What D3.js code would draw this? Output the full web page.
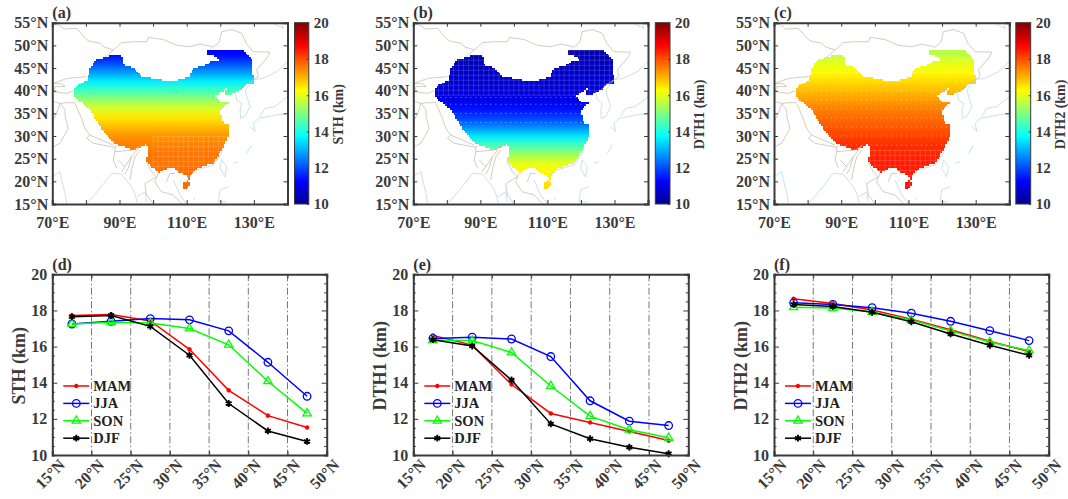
<!DOCTYPE html>
<html>
<head>
<meta charset="utf-8">
<script src="https://cdn.jsdelivr.net/npm/d3@7"></script>
<style>
body { margin: 0; background: #fff; }
text { font-family: "Liberation Serif", serif; font-weight: bold; fill: #3a3a3a; }
</style>
</head>
<body>
<div id="chart"></div>
<script>
var width = 1068;
var height = 499;

// latitude bands, one value per season
var bands = [17.5, 22.5, 27.5, 32.5, 37.5, 42.5, 47.5];
var seasons = ["MAM", "JJA", "SON", "DJF"];
var seasonColors = ["#ff0000", "#0000ff", "#00ff00", "#000000"];

var sthMAM = [17.72, 17.78, 17.42, 15.85, 13.58, 12.18, 11.52];
var sthJJA = [17.25, 17.40, 17.55, 17.48, 16.87, 15.13, 13.25];
var sthSON = [17.25, 17.35, 17.30, 17.00, 16.10, 14.08, 12.30];
var sthDJF = [17.65, 17.72, 17.12, 15.52, 12.85, 11.33, 10.75];

var dth1MAM = [16.62, 16.08, 13.90, 12.30, 11.80, 11.30, 10.80];
var dth1JJA = [16.45, 16.52, 16.42, 15.45, 13.00, 11.87, 11.63];
var dth1SON = [16.35, 16.33, 15.67, 13.82, 12.15, 11.40, 10.95];
var dth1DJF = [16.38, 16.03, 14.15, 11.72, 10.90, 10.43, 10.07];

var dth2MAM = [18.65, 18.38, 18.02, 17.52, 16.93, 16.30, 15.72];
var dth2JJA = [18.42, 18.33, 18.15, 17.85, 17.40, 16.88, 16.33];
var dth2SON = [18.18, 18.13, 17.92, 17.47, 16.87, 16.25, 15.78];
var dth2DJF = [18.33, 18.22, 17.90, 17.37, 16.70, 16.07, 15.52];

// map field read along latitude
var fieldLats = [18, 20, 22, 24, 26, 28, 30, 32, 34, 36, 38, 40, 42, 44, 46, 48, 50];
var sthField  = [17.7, 17.7, 17.7, 17.6, 17.6, 17.5, 17.3, 16.9, 16.5, 15.9, 15.2, 14.4, 13.6, 12.8, 12.0, 11.3, 11.0];
var dth1Field = [16.6, 16.5, 16.3, 16.0, 15.3, 14.4, 13.5, 12.6, 11.9, 11.4, 11.0, 10.8, 10.7, 10.6, 10.5, 10.4, 10.3];
var dth2Field = [18.7, 18.6, 18.5, 18.5, 18.4, 18.3, 18.1, 17.9, 17.7, 17.5, 17.2, 16.9, 16.6, 16.3, 16.0, 15.6, 15.4];

// jet colour map
var jetStops = [0, 0.125, 0.375, 0.625, 0.875, 1];
var jetColors = ["#00008f", "#0000ff", "#00ffff", "#ffff00", "#ff0000", "#800000"];

var latTicks = [15, 20, 25, 30, 35, 40, 45, 50, 55];
var lonTicks = [70, 80, 90, 100, 110, 120, 130, 140];
var lonLabels = [70, 90, 110, 130];
var barTicks = [10, 12, 14, 16, 18, 20];
var bandTicks = [15, 20, 25, 30, 35, 40, 45, 50];

// China outline, lon/lat
var china = [[76.3,40.15],[77.05,41],[80.4,42.35],[81.2,44.9],[82.7,46.75],[85.7,47.35],[88.2,47.85],[90.65,47.65],[91.35,45.65],[94.6,44.9],[96.6,43.1],[101.1,42.6],[105.05,42],[108.5,42.6],[111,43.25],[111.8,44.9],[116,45.65],[117,46.4],[119.95,46.9],[118,47.65],[116.2,47.85],[116.2,49.1],[123.9,49.1],[126.9,48.9],[129.4,47],[129.9,41.6],[128.4,41.6],[125.9,40.15],[121.9,38.7],[121.4,39.8],[122.3,40.75],[120.45,39.8],[118.45,38.7],[119.95,37.55],[122.9,37.55],[120.95,36.45],[119.95,35.35],[121.15,32.65],[122.45,32.45],[122.45,30],[120.45,26.9],[118,24],[113,22.9],[111,21.4],[110.9,20.4],[110.3,20.4],[110.2,21.5],[107.5,21.75],[106.55,22.9],[104.05,22.9],[101.6,21.9],[99.1,23.6],[97.8,24.35],[98.6,26.2],[98.1,28.4],[96.1,27.3],[93.6,27.05],[88.7,28.2],[84.2,32.05],[81.2,35.75],[78.2,37.55],[76.3,39.05]];
var hainan = [[108.8,18.8],[109,19.7],[110.5,20.15],[111,19.4],[110.2,18.45],[109,18.2]];

var borders = [
  [[70,54.7],[72,54.5],[73.5,53.6],[77.25,53.75],[79,52.2],[80.7,51],[84.2,50.45],[85.5,49.6],[88.2,49],[90.65,50.6],[94.15,50.8],[98.1,50.8],[98.6,51.75],[103.05,51.3],[107,50],[111,49.7],[114,50.3],[118,49.6],[119.7,50.8],[120.4,53],[123.4,53.5],[126.4,52.65],[127.7,50.45],[129.85,48.6],[134.8,48.5],[133.8,47.15],[130.85,44.6],[131.3,43.1],[129.85,42.4]],
  [[88.2,49],[85.7,47.35]],
  [[70.3,41.6],[74.3,42.7],[80.2,43.1]],
  [[70.3,41.6],[72.8,41.5],[73.8,40.9],[70.8,40.9],[70.3,39.8],[74.3,39.4],[76.25,40]],
  [[70.3,37.6],[72.3,37.2],[74.3,37.35],[76.75,37.35]],
  [[72.3,37.2],[73.8,35.75],[73.8,34.3],[74.75,31.7],[72.3,28.4],[70.3,27.65]],
  [[72.3,37.2],[71.3,35],[70.3,33.55]],
  [[76.75,37.2],[78.7,33.9],[79.7,31.7],[81.2,30.2],[88.15,28]],
  [[81.2,30.2],[80.2,29.5],[82.2,28.4],[88.65,27.5],[89.1,28]],
  [[88.65,27.5],[88.65,26.55],[88.15,24.7],[89.15,22.9]],
  [[88.65,26.55],[94.1,26.9],[96.1,27.8]],
  [[89.65,24.7],[91.6,23.25],[93.6,25.45],[96.1,27.8]],
  [[91.6,23.25],[90.6,22.1]],
  [[93.6,25.45],[92.6,22.9],[91.6,21.6]],
  [[96.1,26.9],[94.6,25.4],[93.6,22.5],[93.1,20.3]],
  [[98.05,24.3],[99.55,22.1],[101,21],[97.55,19.5],[98.05,17],[100,15.1]],
  [[101.5,21.75],[100.5,19.9],[102.5,17.7],[106,17],[108.5,15.1]],
  [[104,19.9],[105,21.75],[106.5,21.7]],
  [[125.9,40.15],[127.5,41.3],[129.85,42.4]]
];
var coasts = [
  [[69.8,21.05],[72.3,22.1],[72.8,20.3],[73.8,17.35],[74.3,15]],
  [[80.2,15],[84.2,18.45],[87.65,21.75],[90.6,21.6],[93.6,18.8],[94.6,17.35],[95.3,15.2]],
  [[95.3,16.6],[97.6,17.7],[98,15.5]],
  [[106,20.3],[108,17],[110,15]],
  [[140,46.4],[136.8,44.2],[132.8,42.75],[129.85,42.4]],
  [[129.85,42.4],[127.4,40.15],[127.9,38.7],[128.85,36.5],[127.35,34.3],[126.05,33.9],[125.9,35.75],[126.4,37.2],[124.9,37.95],[124.4,39.8]],
  [[140,35],[136.8,34.65],[131.35,33.9],[129.85,32.8],[130.35,31],[128.85,32.1]],
  [[140,38.7],[136.3,36.5],[133.3,36.1],[131.8,34.3]],
  [[135.8,54.85],[138.8,53.75],[138.3,54.7]],
  [[129.35,28],[127.85,26.2]],
  [[120.4,24.7],[121.9,23.25],[121.4,21],[119.9,22.9],[120.4,24.7]],
  [[122.4,18.85],[119.9,18.1],[119.4,15.5],[121.9,15.5]],
  [[123.9,24],[125.4,24.35]],
  [[111.9,16.5],[112.4,15.9]],
  [[111,21.2],[113,22.5],[118,23.6],[120.7,26.6]]
];

var mapPanels = [
  {id: "a", left: 52.3, right: 287.5, barLeft: 294.5, barRight: 308.8, field: sthField, label: "STH (km)", hatch: [100, 123, 20, 30], dots: []},
  {id: "b", left: 413.3, right: 648, barLeft: 655.3, barRight: 670, field: dth1Field, label: "DTH1 (km)", hatch: [76, 130, 39, 50], dots: [33, 35, 37, 38.5]},
  {id: "c", left: 774, right: 1009.3, barLeft: 1015.8, barRight: 1030.7, field: dth2Field, label: "DTH2 (km)", hatch: [97, 123, 18, 27], dots: [28, 30, 32, 34, 36, 38, 40, 42, 44, 47]}
];
var linePanels = [
  {id: "d", left: 52.3, right: 326.7, values: [sthMAM, sthJJA, sthSON, sthDJF], label: "STH (km)"},
  {id: "e", left: 413.3, right: 688.3, values: [dth1MAM, dth1JJA, dth1SON, dth1DJF], label: "DTH1 (km)"},
  {id: "f", left: 774, right: 1048.7, values: [dth2MAM, dth2JJA, dth2SON, dth2DJF], label: "DTH2 (km)"}
];

var axisColor = "#3a3a3a";
var mapTop = 22.7, mapBottom = 204;
var lineTop = 274.3, lineBottom = 455;

var svg = d3.select("#chart").append("svg")
          .attr("width", width)
          .attr("height", height);
var defs = svg.append("defs");

var jet = d3.scaleLinear()
            .domain(jetStops.map(function(s) { return 10 + s * 10; }))
            .range(jetColors)
            .clamp(true);

function styleAxis(g, size) {
  g.selectAll("path").attr("stroke", axisColor).attr("stroke-width", 2);
  g.selectAll("line").attr("stroke", axisColor).attr("stroke-width", 1);
  g.selectAll("text").attr("font-size", size).style("fill", axisColor);
}

function drawMap(p) {
  var x = d3.scaleLinear().domain([70, 140]).range([p.left, p.right]);
  var y = d3.scaleLinear().domain([15, 55]).range([mapBottom, mapTop]);
  var path = d3.line().x(function(d) { return x(d[0]); }).y(function(d) { return y(d[1]); });

  var grad = defs.append("linearGradient")
                 .attr("id", "field" + p.id)
                 .attr("gradientUnits", "userSpaceOnUse")
                 .attr("x1", 0).attr("x2", 0)
                 .attr("y1", y(fieldLats[0])).attr("y2", y(fieldLats[fieldLats.length - 1]));
  fieldLats.forEach(function(lat, i) {
    grad.append("stop")
        .attr("offset", i / (fieldLats.length - 1))
        .attr("stop-color", jet(p.field[i]));
  });

  // the field is gridded, so the outline steps from cell to cell
  var cells = "";
  d3.range(70, 140, 0.5).forEach(function(lon) {
    d3.range(15, 55, 0.4).forEach(function(lat) {
      var c = [lon + 0.25, lat + 0.2];
      if (d3.polygonContains(china, c) || d3.polygonContains(hainan, c)) {
        cells += "M" + x(lon) + "," + y(lat + 0.4) + "H" + x(lon + 0.5) + "V" + y(lat) + "H" + x(lon) + "Z";
      }
    });
  });

  defs.append("clipPath").attr("id", "shape" + p.id)
      .append("path").attr("d", cells);

  var g = svg.append("g");
  g.append("path").attr("d", cells)
   .attr("fill", "url(#field" + p.id + ")")
   .attr("shape-rendering", "crispEdges");

  // regridding gaps that show as a pale mesh
  var hatch = g.append("g").attr("clip-path", "url(#shape" + p.id + ")")
               .attr("stroke", "#fff").attr("stroke-opacity", 0.25).attr("stroke-width", 0.6);
  hatch.selectAll(".v").data(d3.range(p.hatch[0], p.hatch[1], 1.5)).enter().append("line")
       .attr("x1", x).attr("x2", x).attr("y1", y(p.hatch[2])).attr("y2", y(p.hatch[3]));
  hatch.selectAll(".h").data(d3.range(p.hatch[2], p.hatch[3], 1.1)).enter().append("line")
       .attr("y1", y).attr("y2", y).attr("x1", x(p.hatch[0])).attr("x2", x(p.hatch[1]));
  hatch.selectAll(".d").data(p.dots).enter().append("line")
       .attr("y1", y).attr("y2", y).attr("x1", x(75)).attr("x2", x(130))
       .attr("stroke-opacity", 0.45).attr("stroke-width", 0.8).attr("stroke-dasharray", "1.5,3.5");

  g.selectAll(".border").data(borders).enter().append("path")
   .attr("d", path).attr("fill", "none").attr("stroke", "#c4b5a6").attr("stroke-width", 0.7);
  g.selectAll(".coast").data(coasts).enter().append("path")
   .attr("d", path).attr("fill", "none").attr("stroke", "#b3d4e4").attr("stroke-width", 0.7);

  // axes on all four sides, ticks inward
  var bottom = svg.append("g").attr("transform", "translate(0," + mapBottom + ")")
    .call(d3.axisBottom(x).tickValues(lonTicks).tickSize(-4).tickPadding(6)
      .tickFormat(function(d) { return lonLabels.indexOf(d) >= 0 ? d + "°E" : ""; }));
  styleAxis(bottom, 16);
  bottom.selectAll("text").attr("dy", "1.1em");
  styleAxis(svg.append("g").attr("transform", "translate(0," + mapTop + ")")
    .call(d3.axisTop(x).tickValues(lonTicks).tickSize(-4).tickFormat("")), 16);
  styleAxis(svg.append("g").attr("transform", "translate(" + p.left + ",0)")
    .call(d3.axisLeft(y).tickValues(latTicks).tickSize(-4).tickPadding(4)
      .tickFormat(function(d) { return d + "°N"; })), 16);
  styleAxis(svg.append("g").attr("transform", "translate(" + p.right + ",0)")
    .call(d3.axisRight(y).tickValues(latTicks).tickSize(-4).tickFormat("")), 16);

  // colour bar
  var bar = d3.scaleLinear().domain([10, 20]).range([mapBottom, mapTop]);
  var barGrad = defs.append("linearGradient").attr("id", "bar" + p.id)
                    .attr("x1", 0).attr("x2", 0).attr("y1", 1).attr("y2", 0);
  jetStops.forEach(function(s, i) {
    barGrad.append("stop").attr("offset", s).attr("stop-color", jetColors[i]);
  });
  svg.append("rect")
     .attr("x", p.barLeft).attr("y", mapTop)
     .attr("width", p.barRight - p.barLeft).attr("height", mapBottom - mapTop)
     .attr("fill", "url(#bar" + p.id + ")")
     .attr("stroke", axisColor).attr("stroke-width", 1);
  var barAxis = svg.append("g").attr("transform", "translate(" + p.barRight + ",0)")
    .call(d3.axisRight(bar).tickValues(barTicks).tickSize(-2).tickPadding(5));
  styleAxis(barAxis, 15);
  barAxis.select("path").remove();
  svg.append("text")
     .attr("transform", "translate(" + (p.barRight + 34) + "," + (y(35) + 1) + ") rotate(-90)")
     .attr("text-anchor", "middle").attr("font-size", 14)
     .text(p.label);

  svg.append("text").attr("x", p.left).attr("y", 18)
     .attr("font-size", 16).style("fill", "#333")
     .text("(" + p.id + ")");
}

function drawLines(p) {
  var x = d3.scaleLinear().domain([15, 50]).range([p.left, p.right]);
  var y = d3.scaleLinear().domain([10, 20]).range([lineBottom, lineTop]);
  var line = d3.line().x(function(d, i) { return x(bands[i]); }).y(function(d) { return y(d); });

  // dash-dot verticals
  svg.append("g").selectAll("line").data(bandTicks.slice(1, -1)).enter().append("line")
     .attr("x1", x).attr("x2", x).attr("y1", lineTop).attr("y2", lineBottom)
     .attr("stroke", "#777").attr("stroke-width", 1).attr("stroke-dasharray", "7,2.5,1.5,2.5");

  var symbols = [d3.symbolCircle, d3.symbolCircle, d3.symbolTriangle, d3.symbolAsterisk];
  var sizes = [8, 45, 30, 32];

  function marker(sel, s, px, py) {
    sel.append("path")
       .attr("d", d3.symbol().type(symbols[s]).size(sizes[s]))
       .attr("transform", "translate(" + px + "," + py + ")")
       .attr("fill", s == 0 ? seasonColors[0] : "none")
       .attr("stroke", seasonColors[s])
       .attr("stroke-width", s == 3 ? 1.9 : 1.3);
  }

  p.values.forEach(function(vals, s) {
    var g = svg.append("g");
    g.append("path").attr("d", line(vals))
     .attr("fill", "none").attr("stroke", seasonColors[s]).attr("stroke-width", 1.5);
    vals.forEach(function(v, i) { marker(g, s, x(bands[i]), y(v)); });
  });

  // legend
  seasons.forEach(function(name, s) {
    var ly = 386 + s * 17.4;
    var g = svg.append("g");
    g.append("line").attr("x1", p.left + 11).attr("x2", p.left + 37)
     .attr("y1", ly).attr("y2", ly)
     .attr("stroke", seasonColors[s]).attr("stroke-width", 1.5);
    marker(g, s, p.left + 24, ly);
    g.append("text").attr("x", p.left + 41).attr("y", ly + 5)
     .attr("font-size", 14.5).style("fill", "#222").text(name);
  });

  var bottom = svg.append("g").attr("transform", "translate(0," + lineBottom + ")")
    .call(d3.axisBottom(x).tickValues(bandTicks).tickSize(-4).tickPadding(5)
      .tickFormat(function(d) { return d + "°N"; }));
  styleAxis(bottom, 16);
  bottom.selectAll("text")
        .attr("text-anchor", "end")
        .attr("dx", "0.1em").attr("dy", "0.75em")
        .attr("transform", "rotate(-45)");
  styleAxis(svg.append("g").attr("transform", "translate(0," + lineTop + ")")
    .call(d3.axisTop(x).tickValues(bandTicks).tickSize(-4).tickFormat("")), 16);

  var minor = d3.range(10, 20.01, 0.5);
  function leftTicks(d) { return d % 2 == 0 ? d : ""; }
  var left = svg.append("g").attr("transform", "translate(" + p.left + ",0)")
    .call(d3.axisLeft(y).tickValues(minor).tickSize(-2.5).tickPadding(5).tickFormat(leftTicks));
  styleAxis(left, 16);
  left.selectAll(".tick").filter(function(d) { return d % 2 == 0; }).select("line").attr("x2", 5);
  var right = svg.append("g").attr("transform", "translate(" + p.right + ",0)")
    .call(d3.axisRight(y).tickValues(minor).tickSize(-2.5).tickFormat(""));
  styleAxis(right, 16);
  right.selectAll(".tick").filter(function(d) { return d % 2 == 0; }).select("line").attr("x2", -5);

  svg.append("text")
     .attr("transform", "translate(" + (p.left - 27) + "," + ((lineTop + lineBottom) / 2 + 1) + ") rotate(-90)")
     .attr("text-anchor", "middle").attr("font-size", 18)
     .text(p.label);

  svg.append("text").attr("x", p.left).attr("y", 270)
     .attr("font-size", 16).style("fill", "#333")
     .text("(" + p.id + ")");
}

mapPanels.forEach(drawMap);
linePanels.forEach(drawLines);
</script>
</body>
</html>
